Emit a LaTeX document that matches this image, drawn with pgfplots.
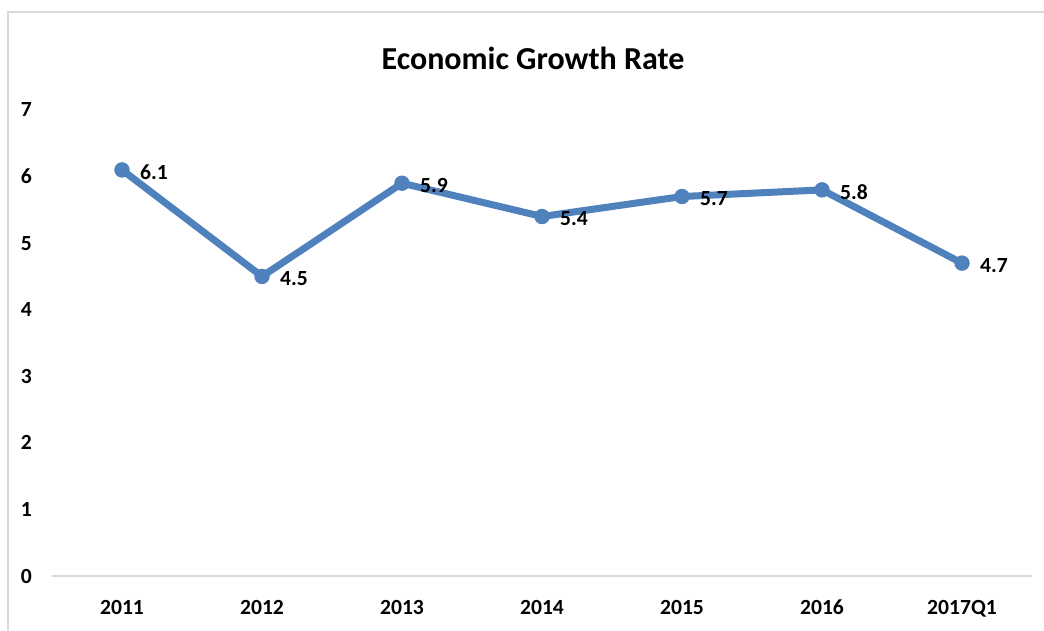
\documentclass[border=0pt]{standalone}
\usepackage{fontspec}
\setmainfont{Carlito}
\usepackage{pgfplots}
\pgfplotsset{compat=1.18}
\definecolor{lineblue}{HTML}{4F81BD}
\definecolor{framegray}{HTML}{D9D9D9}
\begin{document}
\begin{tikzpicture}
% outer chart frame (left and top edges visible); 1 px = 0.5pt
\draw[framegray, line width=0.8pt] (4pt,0pt) -- (4pt,309.5pt) -- (522pt,309.5pt);
\node[font=\bfseries\fontsize{16}{19}\selectfont] at (266.5pt,286.5pt) {Economic Growth Rate};
\begin{axis}[
  at={(26pt,27.5pt)}, anchor=south west,
  scale only axis,
  width=490pt, height=233pt,
  xmin=-0.5, xmax=6.5,
  ymin=0, ymax=7,
  axis x line*=bottom,
  axis y line=none,
  x axis line style={framegray, line width=0.8pt, -},
  xtick={0,...,6},
  xticklabels={2011,2012,2013,2014,2015,2016,2017Q1},
  major tick length=0pt,
  ytick={0,...,7},
  tick label style={font=\bfseries\fontsize{10.8}{13}\selectfont},
  /pgf/number format/assume math mode=true,
  xticklabel style={yshift=-8.5pt},
  clip=false,
]
% y tick labels drawn as nodes since y axis line is hidden
\pgfplotsinvokeforeach{0,...,7}{
  \node[anchor=east, font=\bfseries\fontsize{10.8}{13}\selectfont] at (axis cs:-0.5,#1) [xshift=-6.5pt] {#1};
}
\addplot[lineblue, line width=3.5pt, mark=*, mark size=3.6pt,
  mark options={fill=lineblue, draw=lineblue, line width=0.5pt},
  nodes near coords, point meta=explicit symbolic,
  every node near coord/.style={anchor=west, xshift=5.5pt, yshift=-1pt, black, font=\bfseries\fontsize{10.8}{13}\selectfont}]
  table[meta=label] {
x y label
0 6.1 6.1
1 4.5 4.5
2 5.9 5.9
3 5.4 5.4
4 5.7 5.7
5 5.8 5.8
6 4.7 4.7
};
\end{axis}
\pgfresetboundingbox
\useasboundingbox (0pt,0pt) rectangle (522pt,315.5pt);
\end{tikzpicture}
\end{document}
